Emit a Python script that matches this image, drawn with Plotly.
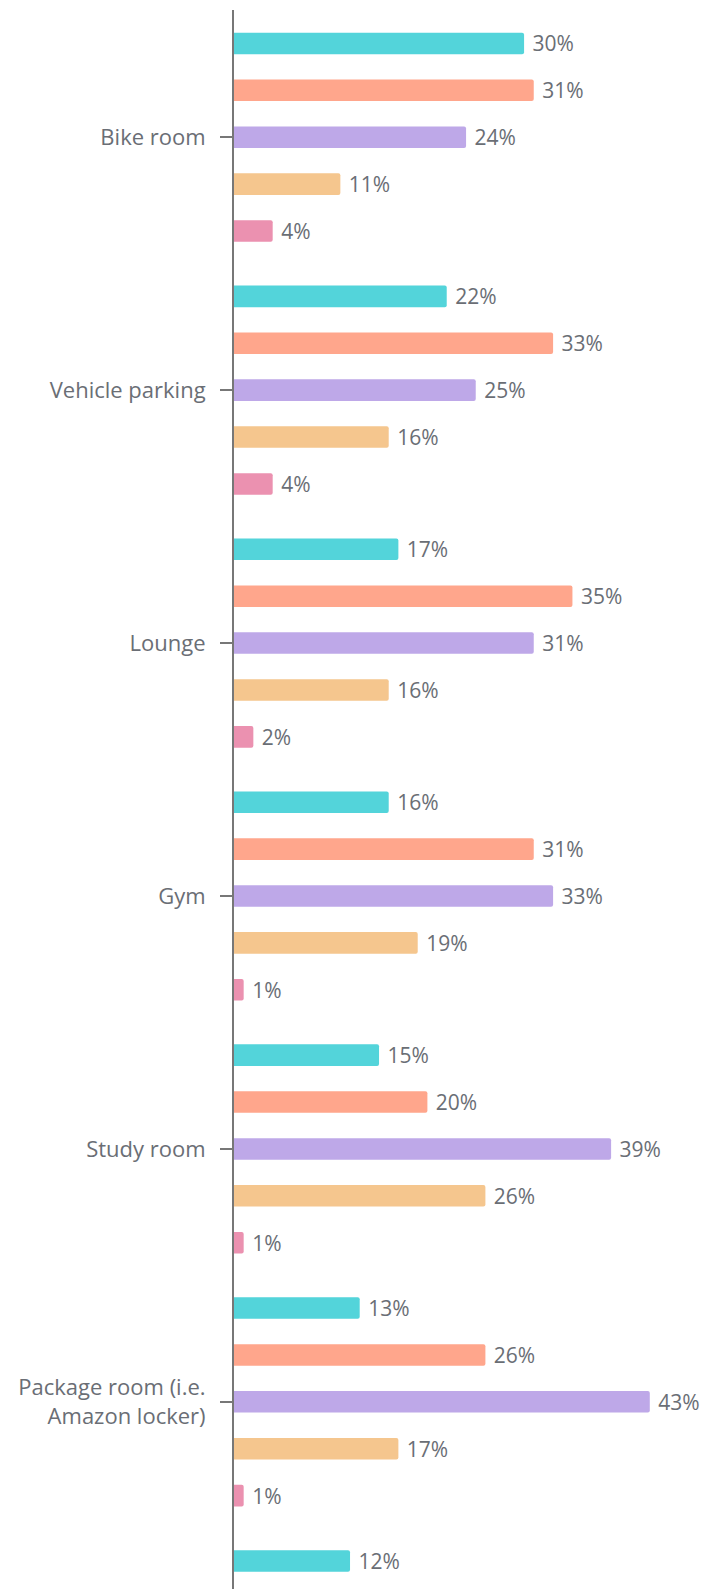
import plotly.graph_objects as go

# categorías (la última aparece cortada en la imagen original)
CATEGORIES = ['Bike room', 'Vehicle parking', 'Lounge', 'Gym', 'Study room',
              'Package room (i.e.<br>Amazon locker)', ' ']

SERIES_NAMES = ['Response 1', 'Response 2', 'Response 3', 'Response 4', 'Response 5']
SERIES_1 = [30, 22, 17, 16, 15, 13, 12]
SERIES_2 = [31, 33, 35, 31, 20, 26, None]
SERIES_3 = [24, 25, 31, 33, 39, 43, None]
SERIES_4 = [11, 16, 16, 19, 26, 17, None]
SERIES_5 = [4, 4, 2, 1, 1, 1, None]

PALETTE = ['#53D4DA', '#FFA68C', '#BEA8E8', '#F5C68E', '#EB91B0']
TEXT_COLOR = '#6A6E75'
FONT = 'Open Sans'

fig = go.Figure()
for name, vals, color in zip(SERIES_NAMES,
                             [SERIES_1, SERIES_2, SERIES_3, SERIES_4, SERIES_5],
                             PALETTE):
    fig.add_trace(go.Bar(
        y=CATEGORIES, x=vals, name=name, orientation='h',
        marker=dict(color=color, cornerradius=2, line=dict(width=0)),
        text=[f'\u00a0{v}%' if v is not None else '' for v in vals],
        textposition='outside', cliponaxis=False,
        textfont=dict(family=FONT, size=21, color=TEXT_COLOR),
        hoverinfo='skip',
    ))

fig.update_layout(
    width=702, height=1589,
    paper_bgcolor='white', plot_bgcolor='white',
    font=dict(family=FONT, size=22, color=TEXT_COLOR),
    margin=dict(l=234, r=0, t=10, b=0, autoexpand=False),
    barmode='group', bargap=0.073, bargroupgap=0.54,
    showlegend=False,
    uniformtext=dict(minsize=21, mode='show'),
)
fig.update_xaxes(range=[0, 48.4], visible=False, fixedrange=True)
fig.update_yaxes(
    type='category', range=[5.74, -0.503], fixedrange=True,
    showgrid=False, zeroline=False,
    showline=True, linecolor='#777777', linewidth=2,
    ticks='outside', ticklen=12, tickwidth=1.5, tickcolor='#777777',
    ticklabelstandoff=10,
    tickfont=dict(family=FONT, size=22, color=TEXT_COLOR),
)

# quita el margen por defecto del body para que el gráfico quede en (0, 0)
fig.write_html('out.html', config={'displayModeBar': False},
               post_script="document.body.style.margin='0';")
